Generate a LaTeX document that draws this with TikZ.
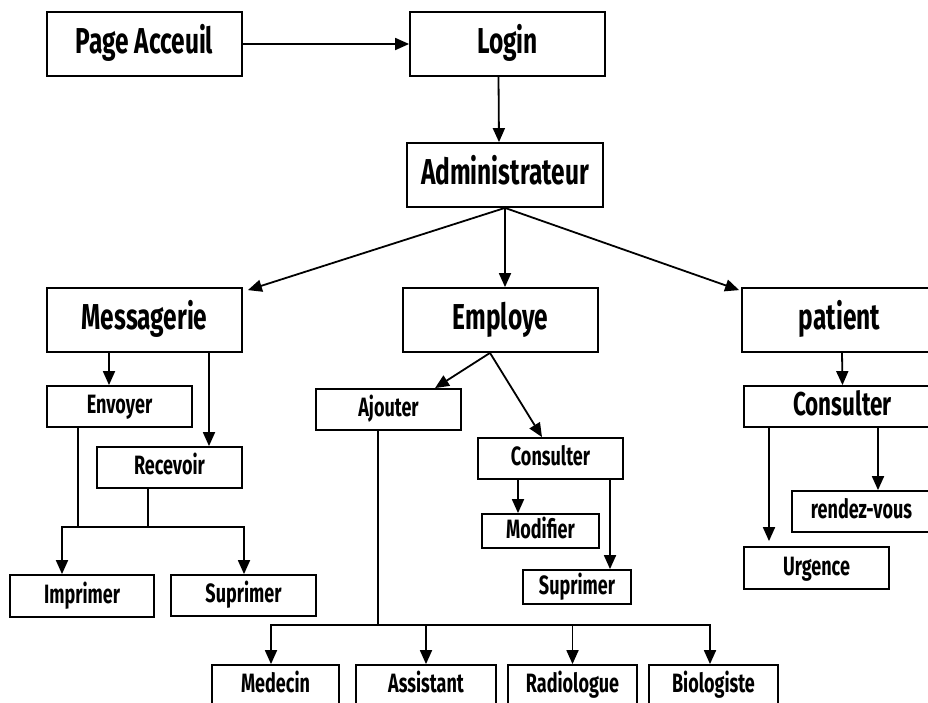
\documentclass[tikz,border=0pt]{standalone}
\usepackage{fontspec}
\newfontfamily\labfont{Fira Sans}[FakeStretch=0.68]
\usetikzlibrary{arrows.meta}
\begin{document}
\begin{tikzpicture}[x=1pt,y=-1pt,
  box/.style={draw=black, line width=1.8pt, fill=white, inner sep=0pt},
  big/.style={box, minimum width=195pt, minimum height=64pt,
    font=\labfont\bfseries\fontsize{36}{36}\selectfont, text height=25pt, text depth=6pt},
  small/.style={box, minimum height=41pt,
    font=\labfont\bfseries\fontsize{26.5}{26.5}\selectfont, text height=18pt, text depth=4pt},
  arr/.style={line width=1.8pt, -{Triangle[length=14pt,width=12pt]}},
  ln/.style={line width=1.8pt},
]
\useasboundingbox (0,0) rectangle (928,702);
\clip (0,0) rectangle (928,702);

% top chain
\node[big] (pa)    at (144.5,44)  {Page Acceuil};
\node[big] (login) at (507.5,44)  {Login};
\node[big, minimum width=196pt] (admin) at (505,175) {Administrateur};

% three modules
\node[big] (mess) at (144.5,320) {Messagerie};
\node[big] (emp)  at (500.5,320) {Employe};
\node[big] (pat)  at (839.5,320) {patient};

% messagerie branch
\node[small, minimum width=145pt] (env)  at (119.5,406.5) {Envoyer};
\node[small, minimum width=145pt] (rec)  at (169.5,467.5) {Recevoir};
\node[small, minimum width=144pt, minimum height=42pt] (imp)  at (82,596) {Imprimer};
\node[small, minimum width=145pt] (sup1) at (243.5,595.5) {Suprimer};

% employe branch
\node[small, minimum width=145pt] (ajo)  at (388.5,409.5) {Ajouter};
\node[small, minimum width=145pt] (cons) at (550.5,458.5) {Consulter};
\node[small, minimum width=117pt, minimum height=34pt] (mod)  at (540.5,531) {Modifier};
\node[small, minimum width=108pt, minimum height=34pt] (sup2) at (577,587) {Suprimer};
\node[small, minimum width=127pt] (med) at (275.5,685.5) {Medecin};
\node[small, minimum width=140pt] (ass) at (426,685.5)   {Assistant};
\node[small, minimum width=129pt] (rad) at (572.5,685.5) {Radiologue};
\node[small, minimum width=129pt] (bio) at (713.5,685.5) {Biologiste};

% patient branch
\node[small, minimum width=197pt, font=\labfont\bfseries\fontsize{33}{33}\selectfont,
      text height=22.5pt, text depth=5pt] (pcons) at (842.5,406.5) {Consulter};
\node[small, minimum width=139pt] (rdv) at (861.5,511.5) {rendez-vous};
\node[small, minimum width=145pt, minimum height=42pt] (urg) at (816.5,568) {Urgence};

% top connectors
\draw[arr] (pa.east) -- (login.west);
\draw[arr] ([xshift=-9pt]login.south) -- ([xshift=-6pt]admin.north);
\draw[arr] (admin.south) -- ([shift={(5pt,-3pt)}]mess.north east);
\draw[arr] (admin.south) -- ([xshift=4.5pt]emp.north);
\draw[arr] (admin.south) -- ([shift={(-2pt,-3pt)}]pat.north west);

% messagerie connectors
\coordinate (mA) at ([xshift=-35.5pt]mess.south);
\coordinate (mB) at ([xshift=64.5pt]mess.south);
\draw[arr] (mA) -- (mA |- env.north);
\draw[arr] (mB) -- (mB |- rec.north);
\coordinate (eL)   at ([xshift=-41.5pt]env.south);
\coordinate (rL)   at ([xshift=-21.5pt]rec.south);
\coordinate (busM) at (0,527);
\coordinate (iT)   at ([xshift=-20pt]imp.north);
\coordinate (sT)   at ([xshift=0.5pt]sup1.north);
\draw[arr] (eL) -- (eL |- busM) -| (iT);
\draw[arr] (rL) -- (rL |- busM) -| (sT);
\draw[ln] (eL |- busM) -- (rL |- busM);

% employe connectors
\coordinate (eS) at ([xshift=-10.5pt]emp.south);
\draw[arr] (eS) -- ([xshift=46.5pt]ajo.north);
\draw[arr] (eS) -- ([xshift=-8.5pt]cons.north);
\coordinate (cA) at ([xshift=-32.5pt]cons.south);
\coordinate (cB) at ([xshift=59.5pt]cons.south);
\draw[arr] (cA) -- (cA |- mod.north);
\draw[arr] (cB) -- (cB |- sup2.north);
\coordinate (aL)   at ([xshift=-10.5pt]ajo.south);
\coordinate (busE) at (0,625);
\coordinate (medT) at ([xshift=-4.5pt]med.north);
\coordinate (bioT) at ([xshift=-3.5pt]bio.north);
\draw[ln] (aL) -- (aL |- busE);
\draw[arr] (aL |- busE) -| (medT);
\draw[arr] (aL |- busE) -| (bioT);
\draw[arr] (ass.north |- busE) -- (ass.north);
\draw[arr] (rad.north |- busE) -- (rad.north);

% patient connectors
\draw[arr] ([xshift=2.5pt]pat.south) -- (pcons.north);
\coordinate (pA) at ([xshift=-73.5pt]pcons.south);
\coordinate (pB) at ([xshift=35.5pt]pcons.south);
\draw[arr, shorten >=5pt] (pA) -- (pA |- urg.north);
\draw[arr] (pB) -- (pB |- rdv.north);
\end{tikzpicture}
\end{document}
